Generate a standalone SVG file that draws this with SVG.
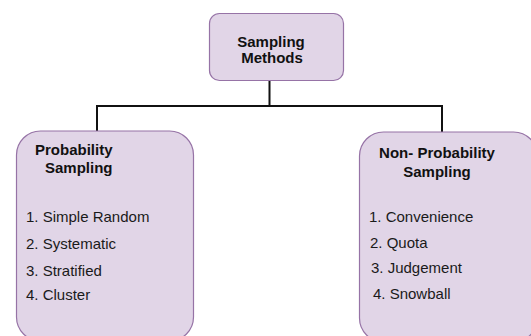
<svg xmlns="http://www.w3.org/2000/svg" width="531" height="336" viewBox="0 0 531 336">
<style>
.box{fill:#e1d5e7;stroke:#9673a6;stroke-width:1.2}
.h{font-family:"Liberation Sans",Arial,sans-serif;font-size:15px;font-weight:bold;fill:#111}
.t{font-family:"Liberation Sans",Arial,sans-serif;font-size:15px;fill:#1a1a1a}
.c{fill:none;stroke:#111;stroke-width:2}
</style>
<rect width="531" height="336" fill="#fff"/>
<g id="connectors">
<path class="c" d="M269.5 80 V106 M97 131 V106 H442 V132"/>
</g>
<g id="sampling-methods">
<rect class="box" x="209.5" y="13.5" width="134" height="67" rx="10"/>
<text class="h" x="271" y="46.5" text-anchor="middle">Sampling</text>
<text class="h" x="272" y="62.5" text-anchor="middle">Methods</text>
</g>
<g id="probability">
<rect class="box" x="16.5" y="131" width="177" height="210" rx="24"/>
<text class="h" x="35" y="155">Probability</text>
<text class="h" x="45" y="173">Sampling</text>
<text class="t" x="26" y="221.5">1. Simple Random</text>
<text class="t" x="26" y="248.5">2. Systematic</text>
<text class="t" x="26" y="275.5">3. Stratified</text>
<text class="t" x="26" y="300">4. Cluster</text>
</g>
<g id="non-probability">
<rect class="box" x="359.5" y="132" width="178" height="210" rx="24"/>
<text class="h" x="437" y="158" text-anchor="middle">Non- Probability</text>
<text class="h" x="437" y="176.5" text-anchor="middle">Sampling</text>
<text class="t" x="369" y="221.5">1. Convenience</text>
<text class="t" x="370" y="248">2. Quota</text>
<text class="t" x="371" y="273">3. Judgement</text>
<text class="t" x="373" y="299">4. Snowball</text>
</g>
</svg>
